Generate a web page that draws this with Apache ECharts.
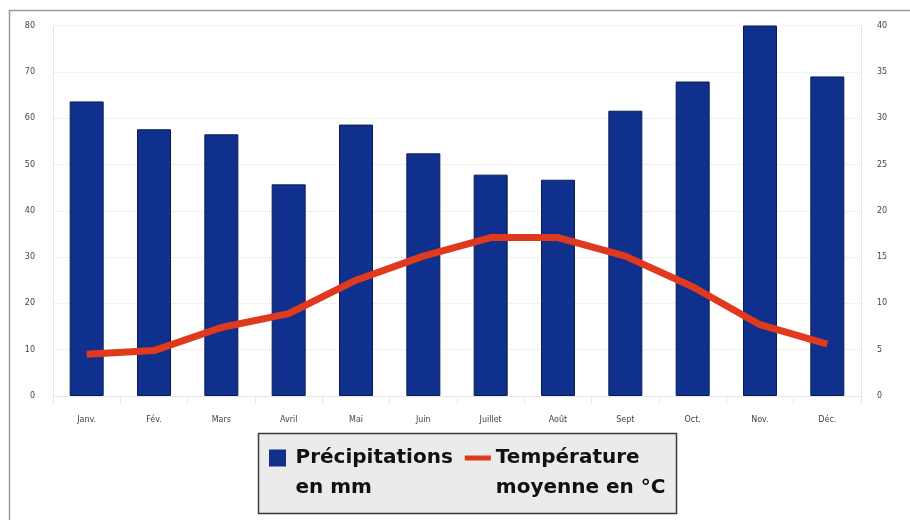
<!DOCTYPE html>
<html>
<head>
<meta charset="utf-8">
<script src="https://cdn.jsdelivr.net/npm/echarts@6/dist/echarts.min.js"></script>
<style>
  html, body { margin: 0; padding: 0; background: #ffffff; }
  #chart { width: 910px; height: 520px; }
</style>
</head>
<body>
<div id="chart"></div>
<script>
// Monthly climate normals: rainfall (bars) and mean temperature (line)
const months = ['Janv.', 'Fév.', 'Mars', 'Avril', 'Mai', 'Juin', 'Juillet', 'Août', 'Sept', 'Oct.', 'Nov.', 'Déc.'];
const precipitation = [63.6, 57.6, 56.5, 45.7, 58.6, 52.4, 47.8, 46.7, 61.6, 67.9, 80, 69.0];
const temperature = [4.5, 4.9, 7.4, 8.9, 12.5, 15.1, 17.1, 17.1, 15.1, 11.8, 7.7, 5.6];
const rainName = 'Précipitations\nen mm';
const tempName = 'Température\nmoyenne en °C';

const chart = echarts.init(document.getElementById('chart'), null, { renderer: 'canvas' });

const axisFont = { fontFamily: 'DejaVu Sans', fontSize: 8, color: '#444' };
const gridLine = { show: true, lineStyle: { color: '#e3e3e3', type: 'dotted', width: 1 } };

chart.setOption({
  animation: false,
  backgroundColor: '#ffffff',
  graphic: [
    { // outer frame
      type: 'polyline', z: 0,
      shape: { points: [[9.5, 520], [9.5, 10.5], [910, 10.5]] },
      style: { stroke: '#9a9a9a', lineWidth: 1.5, fill: null }
    },
    { // legend box
      type: 'rect', z: 0,
      shape: { x: 258.5, y: 433.5, width: 418, height: 80 },
      style: { fill: '#ebebeb', stroke: '#3a3a3a', lineWidth: 1.5 }
    }
  ],
  grid: { left: 53, right: 49, top: 25.5, bottom: 124, containLabel: false },
  legend: {
    left: 269, top: 413, padding: 0, itemGap: 12,
    itemWidth: 26, itemHeight: 17,
    data: [
      { name: rainName, icon: 'path://M0,0h16v16h-16z', itemStyle: { color: '#10308e', borderWidth: 0 } },
      { name: tempName, icon: 'path://M0,0h26v5h-26z', itemStyle: { color: '#e0391d' } }
    ],
    // a leading blank line keeps the marker level with the first text line
    formatter: function (name) { return '\n' + name; },
    textStyle: {
      fontFamily: 'DejaVu Sans', fontWeight: 'bold', fontSize: 20,
      color: '#111', lineHeight: 30
    },
    selectedMode: false
  },
  xAxis: {
    type: 'category', data: months,
    axisLine: { show: true, lineStyle: { color: '#e0e0e0', type: 'dotted' } },
    axisTick: { show: true, length: 8, inside: false, lineStyle: { color: '#e6e6e6' } },
    axisLabel: Object.assign({ margin: 20 }, axisFont),
    splitLine: { show: false }
  },
  yAxis: [
    {
      type: 'value', min: 0, max: 80, interval: 10, position: 'left',
      axisLine: { show: true, lineStyle: { color: '#e0e0e0', type: 'dotted' } },
      axisTick: { show: false },
      axisLabel: Object.assign({ margin: 18 }, axisFont),
      splitLine: gridLine
    },
    {
      type: 'value', min: 0, max: 40, interval: 5, position: 'right',
      axisLine: { show: true, lineStyle: { color: '#e0e0e0', type: 'dotted' } },
      axisTick: { show: false },
      axisLabel: Object.assign({ margin: 16 }, axisFont),
      splitLine: { show: false }
    }
  ],
  series: [
    {
      name: rainName, type: 'bar', yAxisIndex: 0, data: precipitation,
      barWidth: 34,
      itemStyle: { color: '#10308e', borderColor: '#0b1c55', borderWidth: 1 },
      z: 2
    },
    {
      name: tempName, type: 'line', yAxisIndex: 1, data: temperature,
      showSymbol: false, symbol: 'none', smooth: false,
      lineStyle: { color: '#e0391d', width: 7, cap: 'butt', join: 'round' },
      itemStyle: { color: '#e0391d' },
      z: 3
    }
  ]
});
</script>
</body>
</html>
